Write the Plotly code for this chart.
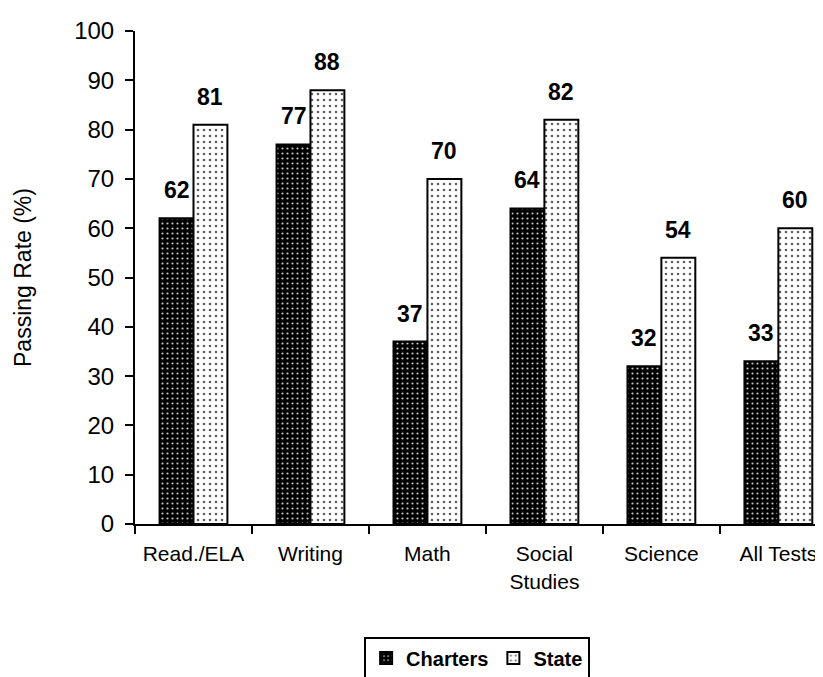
import plotly.graph_objects as go

categories = ["Read./ELA", "Writing", "Math", "Social<br>Studies", "Science", "All Tests"]
charters = [62, 77, 37, 64, 32, 33]
state = [81, 88, 70, 82, 54, 60]
y_ticks = [0, 10, 20, 30, 40, 50, 60, 70, 80, 90, 100]

FONT = "Arial, Liberation Sans, sans-serif"
BARGAP = 0.42
half = (1 - BARGAP) / 4  # offset of each bar centre from category centre

fig = go.Figure()
fig.add_trace(go.Bar(
    name="Charters", x=categories, y=charters,
    marker=dict(color="black", line=dict(color="black", width=2),
                pattern=dict(shape=".", bgcolor="black", fgcolor="#c8c8c8",
                             size=5, solidity=0.15, fillmode="replace")),
))
fig.add_trace(go.Bar(
    name="State", x=categories, y=state,
    marker=dict(color="white", line=dict(color="black", width=2),
                pattern=dict(shape=".", bgcolor="white", fgcolor="#606060",
                             size=6, solidity=0.15, fillmode="replace")),
))

for i, (c, s) in enumerate(zip(charters, state)):
    for val, dx in ((c, -half), (s, half)):
        fig.add_annotation(x=i + dx, y=val, text=f"<b>{val}</b>", showarrow=False,
                           yanchor="bottom", yshift=13,
                           font=dict(family=FONT, size=23, color="black"))

fig.update_layout(
    width=823, height=677,
    margin=dict(l=127, r=0, t=23, b=161, autoexpand=False),
    paper_bgcolor="white", plot_bgcolor="white",
    barmode="group", bargap=BARGAP, bargroupgap=0,
    font=dict(family=FONT, size=21, color="black"),
    showlegend=True,
    legend=dict(orientation="h", xref="container", yref="container",
                x=0.570, xanchor="center", y=0.008, yanchor="bottom",
                bordercolor="black", borderwidth=2, itemwidth=30,
                font=dict(family=FONT, size=20, color="black", weight="bold")),
)
fig.update_xaxes(
    type="category", range=[-0.5, 5.45],
    showline=True, linecolor="black", linewidth=2,
    ticks="outside", tickson="boundaries", ticklen=8, tickwidth=2, tickcolor="black",
    showgrid=False, zeroline=False, ticklabelstandoff=10,
    tickfont=dict(family=FONT, size=21, color="black"),
)
fig.update_yaxes(
    range=[0, 100], tickvals=y_ticks,
    showline=True, linecolor="black", linewidth=2,
    ticks="outside", ticklen=8, tickwidth=2, tickcolor="black",
    showgrid=False, zeroline=False, ticklabelstandoff=6,
    tickfont=dict(family=FONT, size=24, color="black"),
    title=dict(text="Passing Rate (%)", standoff=36,
               font=dict(family=FONT, size=23, color="black")),
)

fig.write_html("out.html")
